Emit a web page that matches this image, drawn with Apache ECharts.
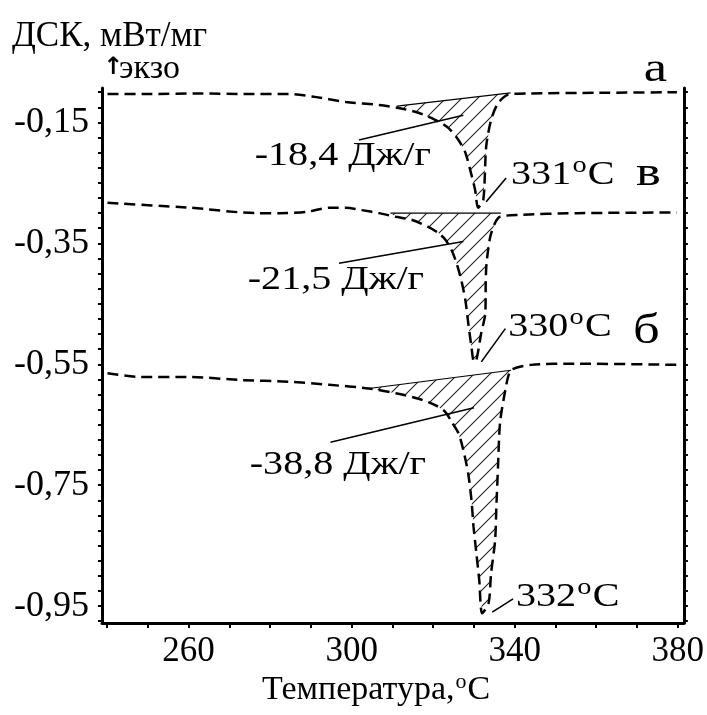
<!DOCTYPE html>
<html>
<head>
<meta charset="utf-8">
<script src="https://cdn.jsdelivr.net/npm/echarts@6/dist/echarts.min.js"></script>
<style>
  html, body { margin: 0; padding: 0; background: #fff; }
  #chart { width: 707px; height: 715px; }
</style>
</head>
<body>
<div id="chart"></div>
<script>
// DSC traces: [temperature °C, heat flow mW/mg]
const curveA = [
  [240.1, -0.103], [250.6, -0.103], [262.8, -0.102], [275.0, -0.103], [284.7, -0.103],
  [290.3, -0.107], [298.6, -0.116], [306.7, -0.121], [311.5, -0.126], [316.4, -0.134],
  [320.6, -0.146], [323.7, -0.159], [326.2, -0.179], [327.9, -0.200], [329.1, -0.229],
  [330.3, -0.262], [331.0, -0.291], [332.3, -0.278], [333.0, -0.190], [334.2, -0.146],
  [335.9, -0.118], [338.4, -0.104], [343.3, -0.102], [360.3, -0.101], [379.8, -0.100]
];
const curveV = [
  [240.1, -0.283], [260.3, -0.291], [276.7, -0.300], [282.3, -0.300], [288.9, -0.298],
  [294.5, -0.291], [298.6, -0.291], [302.5, -0.295], [306.7, -0.300], [310.8, -0.306],
  [314.7, -0.311], [318.9, -0.323], [321.3, -0.333], [323.0, -0.344], [324.5, -0.361],
  [325.7, -0.382], [326.9, -0.411], [327.9, -0.444], [328.6, -0.482], [329.4, -0.522],
  [330.0, -0.546], [330.6, -0.543], [331.8, -0.498], [332.8, -0.465], [332.9, -0.411],
  [333.1, -0.382], [334.0, -0.339], [335.2, -0.316], [336.4, -0.306], [340.8, -0.303],
  [355.4, -0.300], [379.8, -0.299]
];
const curveB = [
  [240.1, -0.565], [248.1, -0.571], [260.3, -0.571], [272.5, -0.576], [284.7, -0.579],
  [294.5, -0.584], [304.2, -0.590], [310.8, -0.598], [316.4, -0.607], [320.6, -0.618],
  [323.0, -0.629], [324.5, -0.645], [326.2, -0.664], [327.4, -0.692], [328.6, -0.731],
  [329.4, -0.775], [329.9, -0.819], [330.6, -0.863], [331.3, -0.907], [332.0, -0.962],
  [333.6, -0.945], [334.2, -0.896], [335.2, -0.841], [335.5, -0.786], [335.9, -0.720],
  [336.4, -0.647], [337.7, -0.593], [339.1, -0.560], [344.0, -0.551], [355.4, -0.549],
  [379.8, -0.551]
];

// integration baselines of the melting peaks
const baseA = [[311.1, -0.123], [339.0, -0.101]];
const baseV = [[309.5, -0.300], [336.6, -0.300]];
const baseB = [[304.2, -0.590], [339.1, -0.560]];

// peak temperatures and melting enthalpies
const peakTemps = [331, 330, 332];
const enthalpies = ['-18,4', '-21,5', '-38,8'];
const curveNames = ['а', 'в', 'б'];

// leader lines [x1, y1, x2, y2]
const leaders = [
  [301.8, -0.179, 327.4, -0.138],
  [333.0, -0.281, 337.9, -0.242],
  [296.9, -0.383, 327.4, -0.347],
  [331.8, -0.546, 337.7, -0.491],
  [294.8, -0.679, 330.0, -0.622],
  [334.5, -0.960, 339.6, -0.938]
];

// axis ticks and labels
const xTickValues = [240, 250, 260, 270, 280, 290, 300, 310, 320, 330, 340, 350, 360, 370, 380];
const xLabelValues = [260, 300, 340, 380];
const yTickValues = [
  -0.975, -0.95, -0.925, -0.9, -0.875, -0.85, -0.825, -0.8, -0.775, -0.75, -0.725, -0.7,
  -0.675, -0.65, -0.625, -0.6, -0.575, -0.55, -0.525, -0.5, -0.475, -0.45, -0.425, -0.4,
  -0.375, -0.35, -0.325, -0.3, -0.275, -0.25, -0.225, -0.2, -0.175, -0.15, -0.125, -0.1
];
const yLabelValues = [-0.15, -0.35, -0.55, -0.75, -0.95];

const FONT = 'Liberation Serif, Times New Roman, serif';
const MAIN_FONT = '34px ' + FONT;
const SUP_FONT = '24px ' + FONT;

const measureCtx = document.createElement('canvas').getContext('2d');
function textWidth(text, font) {
  measureCtx.font = font;
  return measureCtx.measureText(text).width;
}

// "<prefix>°C" written with a raised small "o", as text elements relative to (0, 0)
function degreeText(prefix, font, supFont, rise) {
  const w1 = textWidth(prefix, font);
  const w2 = textWidth('o', supFont);
  const base = { fill: '#000', verticalAlign: 'middle', align: 'left' };
  return [
    { type: 'text', x: 0, y: 0, style: Object.assign({ text: prefix, font: font }, base) },
    { type: 'text', x: w1 + 1, y: -rise, style: Object.assign({ text: 'o', font: supFont }, base) },
    { type: 'text', x: w1 + w2 + 2, y: 0, style: Object.assign({ text: 'C', font: font }, base) }
  ];
}

function hatchPattern() {
  const c = document.createElement('canvas');
  c.width = 16; c.height = 16;
  const g = c.getContext('2d');
  g.strokeStyle = '#222';
  g.lineWidth = 1.1;
  g.beginPath();
  g.moveTo(-4, 20); g.lineTo(20, -4);
  g.moveTo(-4, 4); g.lineTo(4, -4);
  g.moveTo(12, 20); g.lineTo(20, 12);
  g.stroke();
  return c;
}
const hatch = { image: hatchPattern(), repeat: 'repeat' };

// polygon between baseline and trace
function region(curve, base) {
  const inside = curve.filter(p => p[0] > base[0][0] && p[0] < base[1][0]);
  return [base[0], base[1]].concat(inside.slice().reverse());
}
const regions = [region(curveA, baseA), region(curveV, baseV), region(curveB, baseB)];
const baseLines = [baseA, baseV, baseB].map(b => [b[0][0], b[0][1], b[1][0], b[1][1]]);

// text annotations: [x, y, kind, index]
const notes = [
  [276.2, -0.205, 0, 0], [274.5, -0.411, 0, 1], [275.0, -0.717, 0, 2],
  [339.1, -0.237, 1, 0], [338.4, -0.488, 1, 1], [340.3, -0.935, 1, 2],
  [374.5, -0.063, 2, 0], [372.8, -0.235, 2, 1], [372.3, -0.497, 2, 2]
];

const traceStyle = { color: '#000', width: 2.5, type: [11, 6] };

const chart = echarts.init(document.getElementById('chart'), null, { renderer: 'canvas' });
chart.setOption({
  animation: false,
  backgroundColor: '#fff',
  grid: { left: 102, right: 21, top: 88, bottom: 92, containLabel: false },
  xAxis: {
    type: 'value', min: 238.75, max: 381.5,
    axisLine: { show: true, lineStyle: { color: '#000', width: 3 } },
    axisTick: { show: true, customValues: xTickValues, length: 5, lineStyle: { color: '#000', width: 2 } },
    axisLabel: { customValues: xLabelValues, color: '#000', fontFamily: FONT, fontSize: 35, margin: 11 },
    splitLine: { show: false }
  },
  yAxis: [{
    type: 'value', min: -0.978, max: -0.093, position: 'left',
    axisLine: { show: true, lineStyle: { color: '#000', width: 3 } },
    axisTick: { show: true, customValues: yTickValues, length: 4, lineStyle: { color: '#000', width: 2 } },
    axisLabel: {
      customValues: yLabelValues, color: '#000', fontFamily: FONT, fontSize: 36, margin: 13,
      formatter: v => v.toFixed(2).replace('.', ',')
    },
    splitLine: { show: false }
  }, {
    type: 'value', min: -0.978, max: -0.093, position: 'right',
    axisLine: { show: true, lineStyle: { color: '#000', width: 3 } },
    axisTick: { show: true, customValues: yTickValues, length: 4, lineStyle: { color: '#000', width: 2 } },
    axisLabel: { show: false },
    splitLine: { show: false }
  }],
  graphic: [
    { type: 'text', left: 12, top: 19, style: { text: 'ДСК, мВт/мг', font: '35px ' + FONT, fill: '#000' } },
    { type: 'text', left: 103, top: 56, style: { text: '↑', font: 'bold 24px DejaVu Sans', fill: '#000' } },
    { type: 'text', left: 119, top: 52, style: { text: 'экзо', font: '34px ' + FONT, fill: '#000' } },
    {
      type: 'group', x: 262, y: 690,
      children: degreeText('Температура,', '34px ' + FONT, '22px ' + FONT, 8)
    }
  ],
  series: [
    { name: 'а', type: 'line', data: curveA, showSymbol: false, smooth: 0.25, lineStyle: traceStyle, z: 3 },
    { name: 'в', type: 'line', data: curveV, showSymbol: false, smooth: 0.25, lineStyle: traceStyle, z: 3 },
    { name: 'б', type: 'line', data: curveB, showSymbol: false, smooth: 0.25, lineStyle: traceStyle, z: 3 },
    {
      type: 'custom', z: 2,
      data: regions.map((r, i) => [r[0][0], r[0][1], i]),
      renderItem: (params, api) => {
        const pts = regions[api.value(2)].map(p => api.coord(p));
        return { type: 'polygon', shape: { points: pts }, style: { fill: hatch, stroke: null } };
      }
    },
    {
      type: 'custom', z: 4,
      data: leaders.concat(baseLines).map((l, i) => l.concat([i < leaders.length ? 1.6 : 1.1])),
      encode: { x: [0, 2], y: [1, 3] },
      renderItem: (params, api) => {
        const p1 = api.coord([api.value(0), api.value(1)]);
        const p2 = api.coord([api.value(2), api.value(3)]);
        return {
          type: 'line',
          shape: { x1: p1[0], y1: p1[1], x2: p2[0], y2: p2[1] },
          style: { stroke: '#000', lineWidth: api.value(4) }
        };
      }
    },
    {
      type: 'custom', z: 5, clip: false,
      data: notes,
      renderItem: (params, api) => {
        const p = api.coord([api.value(0), api.value(1)]);
        const kind = api.value(2), i = api.value(3);
        let children;
        if (kind === 0) {
          children = [{ type: 'text', style: { text: enthalpies[i] + ' Дж/г', font: MAIN_FONT, fill: '#000', align: 'left', verticalAlign: 'middle' } }];
        } else if (kind === 1) {
          children = degreeText(String(peakTemps[i]), MAIN_FONT, SUP_FONT, 9);
        } else {
          children = [{ type: 'text', style: { text: curveNames[i], font: '42px ' + FONT, fill: '#000', align: 'center', verticalAlign: 'middle' } }];
        }
        return {
          type: 'group', x: p[0], y: p[1],
          scaleX: kind === 2 ? 1.25 : 1.18,
          children: children
        };
      }
    }
  ]
});
</script>
</body>
</html>
